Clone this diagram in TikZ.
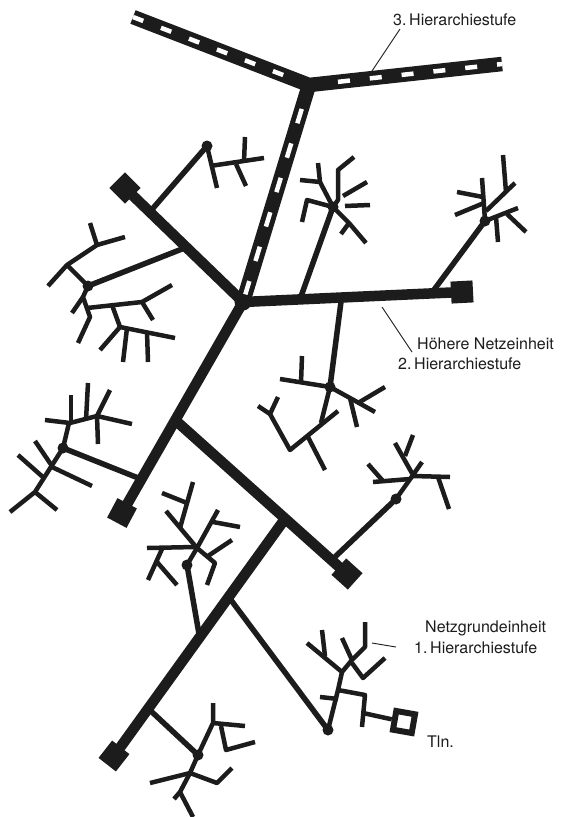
\documentclass[tikz,border=0pt]{standalone}
\usepackage{fontspec}
\setmainfont{TeX Gyre Heros}
\usetikzlibrary{calc}
\definecolor{ink}{HTML}{1C1C1C}
\begin{document}
\begin{tikzpicture}[x=1pt,y=-1pt,
  band/.style={line width=14.5pt, draw=ink, line join=round},
  bandgap/.style={line width=4.5pt, draw=white},
  trunk/.style={line width=10.5pt, draw=ink, line join=round},
  feeder/.style={line width=5.5pt, draw=ink, line cap=round},
  twig/.style={line width=4.5pt, draw=ink, line join=round},
  dot/.style={circle, fill=ink, inner sep=0pt, minimum size=11pt},
  hub/.style={circle, fill=ink, inner sep=0pt, minimum size=17pt},
  term/.style={rectangle, fill=ink, inner sep=0pt, minimum size=22pt},
  tln/.style={rectangle, draw=ink, line width=6pt, inner sep=0pt, minimum size=19pt},
  leader/.style={line width=0.9pt, draw=ink},
  lbl/.style={anchor=base west, inner sep=0pt, text=ink, font=\fontsize{16}{19}\selectfont}
]
\fill[white] (0,0) rectangle (561,817);
\useasboundingbox (0,0) rectangle (561,817);

% ---------- nodes ----------
\coordinate (T3L) at (133,17);
\coordinate (T3H) at (309,85);
\coordinate (T3R) at (502,64);
\node[hub] (H2) at (243,302) {};
\node[term, rotate=45] (SqUL) at (125,188) {};
\node[term, rotate=3]  (SqR)  at (462,292) {};
\node[term, rotate=-28] (SqLL) at (122,513) {};
\node[term, rotate=48] (SqM)  at (347,574) {};
\node[term, rotate=52] (SqB)  at (114,756) {};

\node[dot] (DA) at (207,146) {};
\node[dot] (DB) at (88,286) {};
\node[dot] (DC) at (333,207) {};
\node[dot] (DD) at (485,221) {};
\node[dot] (DE) at (330,387) {};
\node[dot] (DF) at (396,499) {};
\node[dot] (DG) at (63,448) {};
\node[dot] (DH) at (187,565) {};
\node[dot] (DI) at (328,730) {};
\node[dot] (DJ) at (198,755) {};
\node[tln, rotate=-10] (TLN) at (404,722) {};

% ---------- level 3 band ----------
\draw[band] (T3L) -- (T3H) -- (T3R);
\draw[band] (T3H) -- (H2.center);
\draw[bandgap, dash pattern=on 11pt off 19pt, shorten >=16pt] (T3L) -- (T3H);
\draw[bandgap, dash pattern=on 12pt off 20pt, dash phase=7pt, shorten >=18pt] (T3R) -- (T3H);
\draw[bandgap, dash pattern=on 15pt off 21pt, shorten <=25pt, shorten >=8pt] (T3H) -- (H2.center);

% ---------- level 2 trunks ----------
\draw[trunk] (SqUL.center) -- (H2.center) -- (SqR.center);
\draw[trunk] (H2.center) -- (SqLL.center);
\coordinate (J1) at ($(H2)!0.56!(SqLL)$);
\draw[trunk] (J1) -- (SqM.center);
\coordinate (J2) at ($(J1)!0.64!(SqM)$);
\draw[trunk] (J2) -- (SqB.center);

% ---------- feeders ----------
\coordinate (A0) at ($(SqUL)!0.21!(H2)$);
\coordinate (B0) at ($(SqUL)!0.52!(H2)$);
\coordinate (C0) at ($(H2)!0.26!(SqR)$);
\coordinate (D0) at ($(H2)!0.86!(SqR)$);
\coordinate (E0) at ($(H2)!0.45!(SqR)$);
\coordinate (F0) at ($(J1)!0.91!(SqM)$);
\coordinate (G0) at ($(H2)!0.84!(SqLL)$);
\coordinate (H0) at ($(J2)!0.5!(SqB)$);
\coordinate (I0) at ($(J2)!0.33!(SqB)$);
\coordinate (J0) at ($(J2)!0.8!(SqB)$);
\draw[feeder] (A0) -- (DA.center);
\draw[feeder] (B0) -- (DB.center);
\draw[feeder] (C0) -- (DC.center);
\draw[feeder] (D0) -- (DD.center);
\draw[feeder] (E0) -- (DE.center);
\draw[feeder] (F0) -- (DF.center);
\draw[feeder] (G0) -- (DG.center);
\draw[feeder] (H0) -- (DH.center);
\draw[feeder] (I0) -- (DI.center);
\draw[feeder] (J0) -- (DJ.center);

% ---------- tree A ----------
\draw[twig] (DA.center) -- (217,188);
\draw[twig] (210,166) -- (264,158);
\draw[twig] (245,137) -- (244,162);
\draw[twig] (236,164) -- (246,186);

% ---------- tree B ----------
\draw[twig] (DB.center) -- (67,265) -- (48,286);
\draw[twig] (67,265) -- (97,245) -- (125,237);
\draw[twig] (97,245) -- (90,223);
\draw[twig] (DB.center) -- (83,297) -- (90,317) -- (78,343);
\draw[twig] (83,297) -- (72,313);
\draw[twig] (87,308) -- (142,302) -- (172,285);
\draw[twig] (142,302) -- (153,320);
\draw[twig] (112,305) -- (120,327) -- (100,350);
\draw[twig] (120,327) -- (175,338);
\draw[twig] (127,328) -- (123,362);
\draw[twig] (147,332) -- (148,362);

% ---------- tree C ----------
\draw[twig] (DC.center) -- (320,182) -- (318,163);
\draw[twig] (320,182) -- (300,180);
\draw[twig] (DC.center) -- (307,200) -- (302,222);
\draw[twig] (DC.center) -- (338,200) -- (338,170) -- (354,157);
\draw[twig] (343,196) -- (367,182);
\draw[twig] (345,206) -- (370,205);
\draw[twig] (DC.center) -- (349,223) -- (341,234);
\draw[twig] (349,223) -- (366,243);

% ---------- tree D ----------
\draw[twig] (DD.center) -- (484,206) -- (482,178);
\draw[twig] (484,203) -- (455,215);
\draw[twig] (483,197) -- (457,192);
\draw[twig] (486,211) -- (515,183);
\draw[twig] (506,192) -- (503,155);
\draw[twig] (DD.center) -- (518,208);
\draw[twig] (507,214) -- (526,232);
\draw[twig] (496,217) -- (498,242);

% ---------- tree E ----------
\draw[twig] (DE.center) -- (280,379);
\draw[twig] (301,383) -- (302,356);
\draw[twig] (DE.center) -- (350,398) -- (375,412);
\draw[twig] (358,403) -- (385,387);
\draw[twig] (350,398) -- (357,427);
\draw[twig] (DE.center) -- (321,423);
\draw[twig] (258,406) -- (270,414) -- (290,450) -- (338,411);
\draw[twig] (270,414) -- (278,397);
\draw[twig] (308,437) -- (325,470);

% ---------- tree F ----------
\draw[twig] (DF.center) -- (413,475) -- (395,443);
\draw[twig] (405,456) -- (413,435);
\draw[twig] (413,475) -- (422,462);
\draw[twig] (413,476) -- (450,477);
\draw[twig] (438,477) -- (449,509);
\draw[twig] (410,479) -- (373,482);
\draw[twig] (383,481) -- (368,464);

% ---------- tree G ----------
\draw[twig] (DG.center) -- (69,423);
\draw[twig] (45,420) -- (70,423) -- (97,416) -- (132,424);
\draw[twig] (71,423) -- (71,395);
\draw[twig] (86,420) -- (88,383);
\draw[twig] (97,416) -- (110,390);
\draw[twig] (97,416) -- (98,444);
\draw[twig] (DG.center) -- (35,492) -- (10,512);
\draw[twig] (52,466) -- (35,441);
\draw[twig] (52,467) -- (92,486);
\draw[twig] (44,478) -- (18,455);
\draw[twig] (35,492) -- (57,510);

% ---------- tree H ----------
\draw[twig] (DH.center) -- (197,548) -- (166,511);
\draw[twig] (193,482) -- (180,528);
\draw[twig] (162,493) -- (187,503);
\draw[twig] (197,548) -- (218,510);
\draw[twig] (213,522) -- (240,527);
\draw[twig] (197,548) -- (215,563) -- (207,585);
\draw[twig] (208,556) -- (232,540);
\draw[twig] (147,548) -- (195,547);
\draw[twig] (162,549) -- (148,580);
\draw[twig] (157,562) -- (177,585);

% ---------- tree I ----------
\draw[twig] (DI.center) -- (338,690) -- (342,672) -- (352,660) -- (365,647) -- (365,622);
\draw[twig] (342,672) -- (307,643);
\draw[twig] (322,630) -- (325,656);
\draw[twig] (352,660) -- (342,638);
\draw[twig] (352,663) -- (363,678) -- (385,658);
\draw[twig] (320,697) -- (338,699);
\draw[twig] (338,690) -- (365,695) -- (362,727);
\draw[twig] (363,713) -- (TLN);

% ---------- tree J ----------
\draw[twig] (DJ.center) -- (213,723) -- (213,703);
\draw[twig] (213,723) -- (245,726);
\draw[twig] (221,726) -- (226,750) -- (255,742);
\draw[twig] (DJ.center) -- (190,773) -- (180,792) -- (193,817);
\draw[twig] (190,773) -- (150,783);
\draw[twig] (190,773) -- (217,783) -- (232,768);
\draw[twig] (180,792) -- (174,799);

% ---------- labels ----------
\node[lbl] (lab3) at (393,25) {3.\,Hierarchiestufe};
\node[lbl] (lab2a) at (417,349) {Höhere Netzeinheit};
\node[lbl] (lab2b) at (398,369) {2.\,Hierarchiestufe};
\node[lbl] (lab1a) at (425,632) {Netzgrundeinheit};
\node[lbl] (lab1b) at (414,653) {1.\,Hierarchiestufe};
\node[lbl] (labT) at (427,747) {Tln.};

\coordinate (L3e) at (372,71);
\coordinate (L2e) at (382,307);
\coordinate (L1e) at (372,643);
\draw[leader] ($(lab3.base west)+(7,4)$) -- (L3e);
\draw[leader] ($(lab2a.base west)+(-5,3)$) -- (L2e);
\draw[leader] ($(lab1b.base west)+(-18,-6)$) -- (L1e);
\end{tikzpicture}
\end{document}
